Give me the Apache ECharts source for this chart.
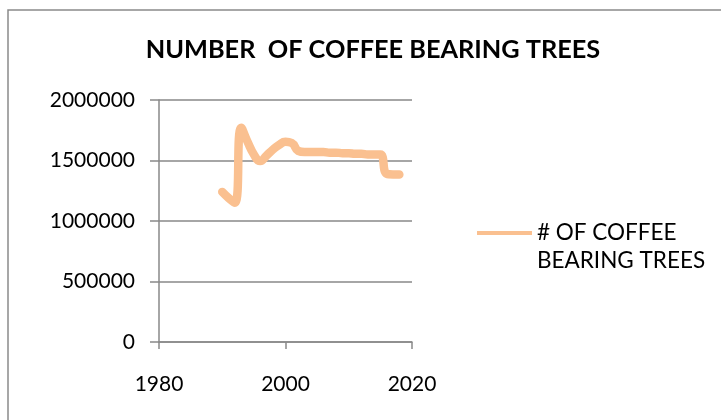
<!DOCTYPE html>
<html>
<head>
<meta charset="utf-8">
<script src="https://cdn.jsdelivr.net/npm/echarts@6/dist/echarts.min.js"></script>
<style>
  html, body { margin: 0; padding: 0; background: #fff; }
  #chart { width: 721px; height: 420px; }
</style>
</head>
<body>
<div id="chart"></div>
<script>
// Coffee bearing trees by year
const years = [1990, 1991, 1992, 1993, 1994, 1995, 1996, 1997, 1998, 1999,
               2000, 2001, 2002, 2003, 2004, 2005, 2006, 2007, 2008, 2009,
               2010, 2011, 2012, 2013, 2014, 2015, 2016, 2017, 2018];
const trees = [1240000, 1190000, 1150000, 1770000, 1655000, 1550000, 1495000, 1540000, 1590000, 1630000,
               1655000, 1645000, 1580000, 1570000, 1570000, 1570000, 1570000, 1565000, 1565000, 1560000,
               1560000, 1555000, 1555000, 1550000, 1550000, 1550000, 1390000, 1385000, 1385000];
const seriesName = '# OF COFFEE BEARING TREES';
const titleText = 'NUMBER  OF COFFEE BEARING TREES';
const xTicks = [1980, 2000, 2020];
const yTicks = [0, 500000, 1000000, 1500000, 2000000];

const FONT = 'Lato, "Open Sans", sans-serif';
const LINE = '#FAC090';
const GRID = '#898989';

// Legend swatch: a 4px bar at the top of a 32px-tall box, so it lines up
// with the first line of the two-line legend label.
const legendIcon = 'path://M0,0 L55,0 L55,4 L0,4 Z M0,32 L0.01,32';

const chart = echarts.init(document.getElementById('chart'), null, { renderer: 'canvas' });

chart.setOption({
  backgroundColor: '#fff',
  animation: false,
  textStyle: { fontFamily: FONT },
  title: {
    text: titleText,
    left: 368,
    top: 32,
    textAlign: 'center',
    textStyle: { fontFamily: FONT, fontWeight: 'bold', fontSize: 25.3, color: '#000' }
  },
  graphic: [{
    type: 'rect',
    shape: { x: 8, y: 10, width: 800, height: 500 },
    style: { fill: 'none', stroke: '#8a8a8a', lineWidth: 1.5 },
    silent: true
  }],
  legend: {
    orient: 'vertical',
    left: 477,
    top: 219,
    padding: 0,
    itemWidth: 55,
    itemHeight: 32,
    itemGap: 0,
    icon: legendIcon,
    itemStyle: { color: LINE },
    data: [seriesName],
    formatter: () => '# OF COFFEE\nBEARING TREES',
    textStyle: {
      fontFamily: FONT, fontSize: 22.5, color: '#000',
      lineHeight: 28
    }
  },
  grid: { left: 159, right: 309, top: 100, bottom: 78, containLabel: false },
  xAxis: {
    type: 'value',
    min: xTicks[0],
    max: xTicks[xTicks.length - 1],
    interval: xTicks[1] - xTicks[0],
    axisLine: { show: true, onZero: false, lineStyle: { color: GRID, width: 1.5 } },
    axisTick: { show: true, length: 7, lineStyle: { color: GRID, width: 1.5 } },
    splitLine: { show: false },
    axisLabel: { color: '#000', fontSize: 21, fontFamily: FONT, margin: 32, formatter: v => String(v) }
  },
  yAxis: {
    type: 'value',
    min: yTicks[0],
    max: yTicks[yTicks.length - 1],
    interval: yTicks[1] - yTicks[0],
    axisLine: { show: true, lineStyle: { color: GRID, width: 1.5 } },
    axisTick: { show: true, length: 9, lineStyle: { color: GRID, width: 1.5 } },
    splitLine: { show: true, lineStyle: { color: GRID, width: 1.5 } },
    axisLabel: { color: '#000', fontSize: 21, fontFamily: FONT, margin: 24, formatter: v => String(v) }
  },
  series: [{
    name: seriesName,
    type: 'line',
    data: years.map((y, i) => [y, trees[i]]),
    smooth: 0.5,
    showSymbol: false,
    symbol: 'none',
    lineStyle: { color: LINE, width: 8.5, cap: 'round', join: 'round' },
    itemStyle: { color: LINE }
  }]
});
</script>
</body>
</html>
